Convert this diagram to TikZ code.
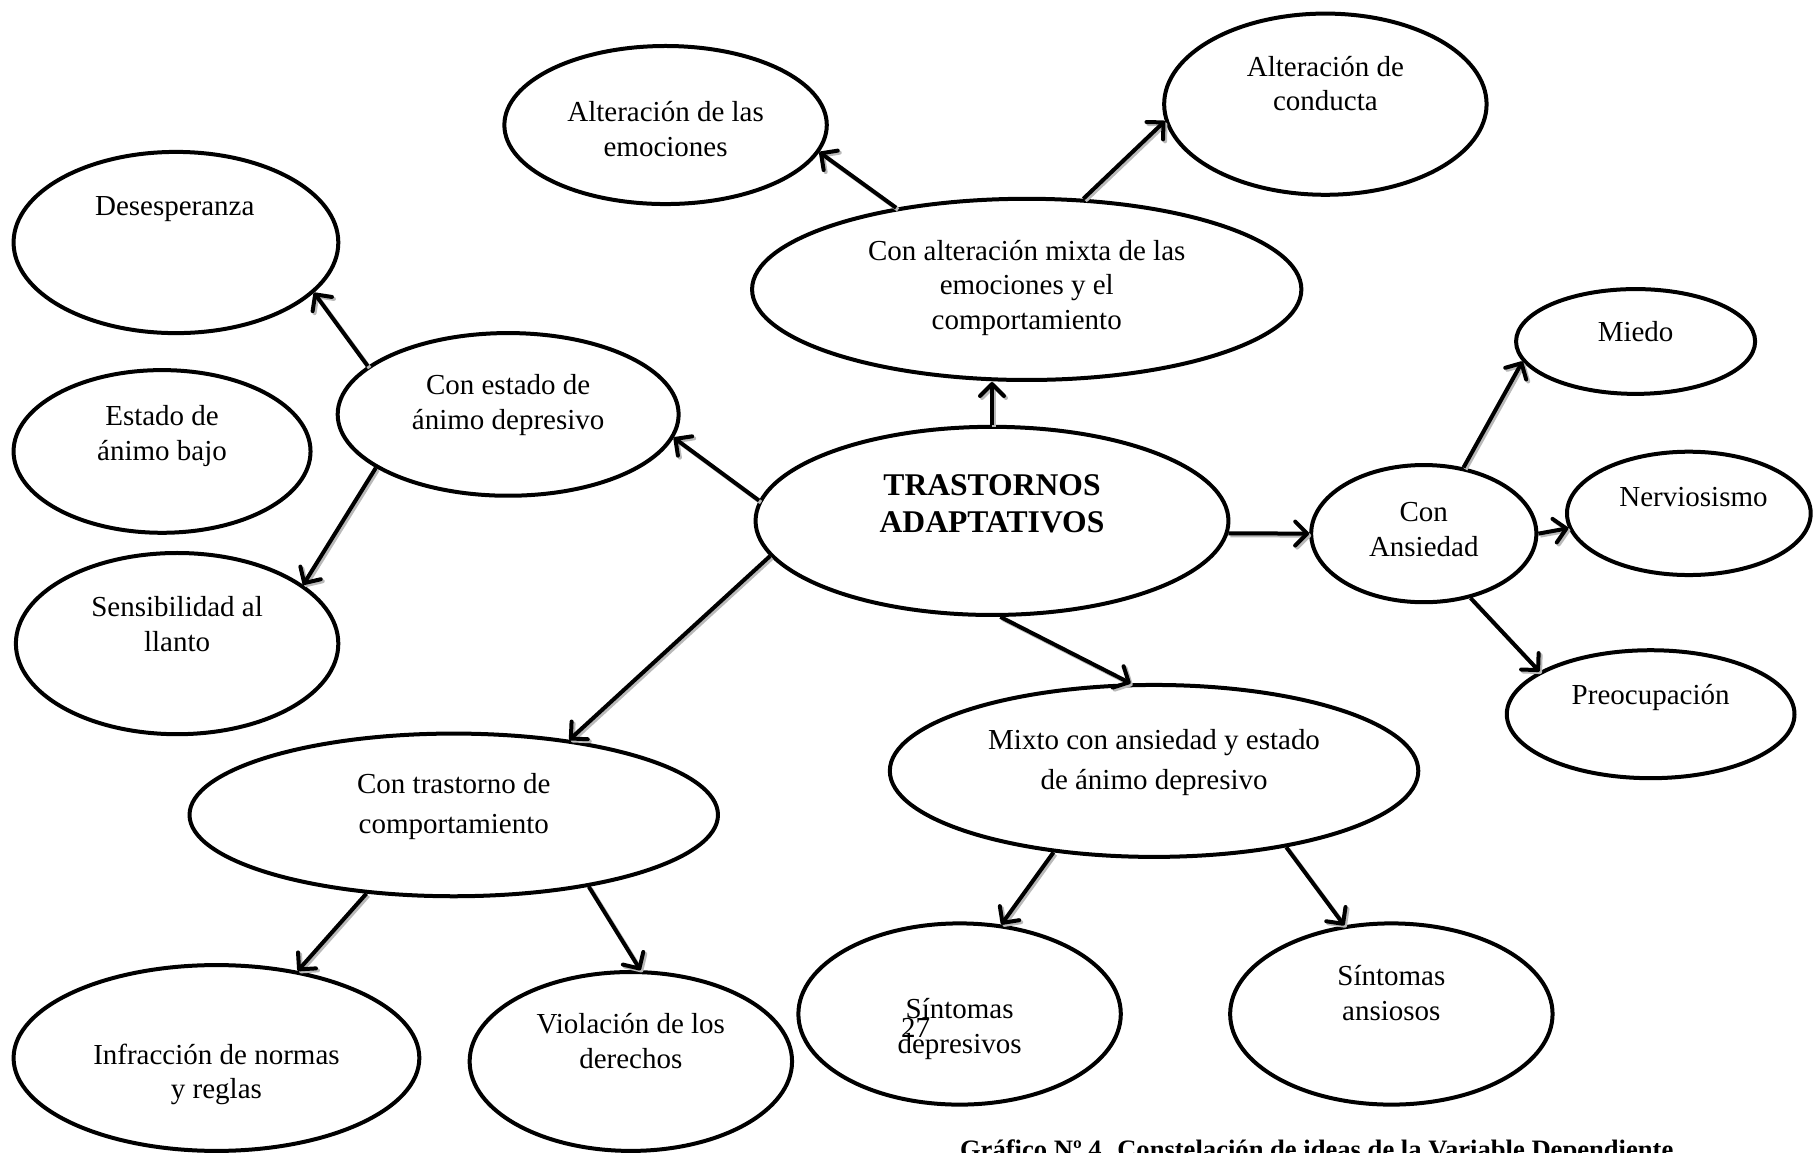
\documentclass[tikz,border=0pt]{standalone}
\usepackage{fontspec}
\setmainfont{Liberation Serif}
\usetikzlibrary{shapes.geometric,arrows.meta}
\tikzset{
  ell/.style 2 args={draw, ellipse, line width=2pt, inner sep=0pt,
    minimum width={2*#1*0.5788pt-2pt}, minimum height={2*#2*0.5788pt-2pt}},
  txt/.style={align=center, inner sep=0pt, yshift=-1pt, font=\fontsize{14.5}{17.4}\selectfont},
  txtw/.style={align=center, inner sep=0pt, yshift=-1pt, font=\fontsize{14.5}{19.7}\selectfont},
  tip/.style={-{Straight Barb[length=6pt,width=12pt,round]}},
  arr/.style={line width=2pt, tip,
    preaction={draw=gray!55, line width=2pt, tip, transform canvas={shift={(1pt,-1pt)}}}}
}
\begin{document}
\begin{tikzpicture}[x=0.5788pt, y=-0.5788pt]
\useasboundingbox (0,0) rectangle (1568,996);
\clip (0,0) rectangle (1568,996);
% ellipses
\node[ell={141}{70}] (emo) at (575,108) {};
\node[ell={141}{80}] (cond) at (1145,90) {};
\node[ell={239}{80}] (mixta) at (887,250) {};
\node[ell={142}{80}] (des) at (152,209.5) {};
\node[ell={130}{72}] (bajo) at (140,390) {};
\node[ell={141}{80}] (llanto) at (153,556) {};
\node[ell={149}{72}] (estado) at (439,358) {};
\node[ell={206}{83}] (trast) at (857,450) {};
\node[ell={105}{47}] (miedo) at (1413,295) {};
\node[ell={107}{55}] (nerv) at (1459,443.5) {};
\node[ell={99}{61}] (ans) at (1230,461) {};
\node[ell={126}{57}] (preo) at (1426,617) {};
\node[ell={230}{76}] (mixto) at (997,666) {};
\node[ell={230}{72}] (comp) at (392,704) {};
\node[ell={177}{82}] (infr) at (187,914) {};
\node[ell={141}{79}] (viol) at (545,917) {};
\node[ell={141}{80}] (sdep) at (829,876) {};
\node[ell={141}{80}] (sans) at (1202,876) {};
% texts
\node[txt] (emo-t) at (575,109.5) {Alteración de las\\emociones};
\node[txt] (cond-t) at (1145,70.5) {Alteración de\\conducta};
\node[txt] (mixta-t) at (887,247) {Con alteración mixta de las\\emociones y el\\comportamiento};
\node[txt] (des-t) at (151,179) {Desesperanza};
\node[txt] (bajo-t) at (140,375) {Estado de\\ánimo bajo};
\node[txt] (llanto-t) at (153,537.5) {Sensibilidad al\\llanto};
\node[txt] (estado-t) at (439,348.5) {Con estado de\\ánimo depresivo};
\node[align=center, inner sep=0pt, font=\bfseries\fontsize{15.8}{18.5}\selectfont] (trast-t) at (857,435) {TRASTORNOS\\ADAPTATIVOS};
\node[txt] (miedo-t) at (1413,285) {Miedo};
\node[txt] (nerv-t) at (1463,428) {Nerviosismo};
\node[txt] (ans-t) at (1230,455.5) {Con\\Ansiedad};
\node[txt] (preo-t) at (1426,601) {Preocupación};
\node[txtw] (mixto-t) at (997,657) {Mixto con ansiedad y estado\\de ánimo depresivo};
\node[txtw] (comp-t) at (392,695) {Con trastorno de\\comportamiento};
\node[txt] (infr-t) at (187,926.5) {Infracción de normas\\y reglas};
\node[txt] (viol-t) at (545,897.5) {Violación de los\\derechos};
\node[txt] (sdep-t) at (829,887.5) {Síntomas\\depresivos};
\node[txt] (sans-t) at (1202,856.5) {Síntomas\\ansiosos};
\node[txt] (pg) at (791,886) {27};
\node[anchor=base west, inner sep=0pt, font=\bfseries\fontsize{13.3}{15}\selectfont] (cap) at (829,1001) {Gráfico Nº 4. Constelación de ideas de la Variable Dependiente};
% arrows
\draw[arr] (trast.north) -- (trast.north |- mixta.south);
\draw[arr] (mixta.148) -- (emo.-10);
\draw[arr] (mixta.58) -- (cond.186);
\draw[arr] (trast.175) -- (estado.-8);
\draw[arr] (estado.161) -- (des.-20);
\draw[arr] (estado.202) -- (llanto.25);
\draw[arr] (trast.189) -- (comp.33);
\draw[arr] (trast.-85) -- (mixto.105);
\draw[arr] (trast.-3) -- (ans.180);
\draw[arr] (ans.59) -- (miedo.190);
\draw[arr] (ans.east) -- (nerv.187);
\draw[arr] (ans.-54) -- (preo.159);
\draw[arr] (comp.222) -- (infr.47);
\draw[arr] (comp.-28) -- (viol.84);
\draw[arr] (mixto.219) -- (sdep.65);
\draw[arr] (mixto.-30) -- (sans.118);
\end{tikzpicture}
\end{document}
